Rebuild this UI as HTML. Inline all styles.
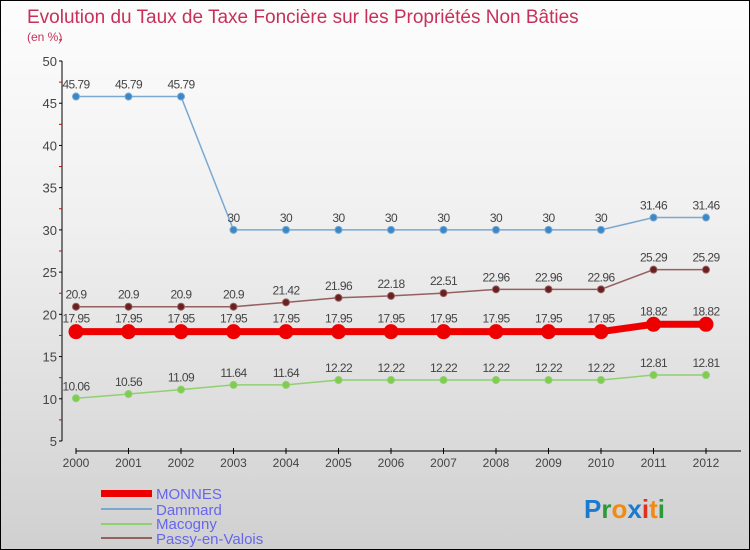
<!DOCTYPE html>
<html><head><meta charset="utf-8"><style>
body{margin:0}
#wrap{width:750px;height:550px;position:relative;box-sizing:border-box;border:1px solid #000;background:linear-gradient(#fdfdfd,#f0f0f0 40%,#d0d0d0);font-family:"Liberation Sans",sans-serif;overflow:hidden}
svg text{font-family:"Liberation Sans",sans-serif}
</style></head><body>
<div id="wrap">
<svg id="c" width="750" height="550">
<text x="26" y="22" font-size="19" fill="#c8305a">Evolution du Taux de Taxe Foncière sur les Propriétés Non Bâties</text>
<text x="26" y="40" font-size="12" fill="#c8305a">(en %)</text>
<g id="axes"></g><g id="series"></g>
<g>
<rect x="100" y="489" width="51" height="7" fill="#e00"/>
<text x="155" y="498" font-size="15" fill="#6666ee">MONNES</text>
<rect x="100" y="507" width="51" height="2" fill="#7aa8d0"/>
<text x="155" y="514" font-size="15" fill="#6666ee">Dammard</text>
<rect x="100" y="522" width="51" height="2" fill="#90d070"/>
<text x="155" y="528" font-size="15" fill="#6666ee">Macogny</text>
<rect x="100" y="536" width="51" height="2" fill="#956060"/>
<text x="155" y="543" font-size="15" fill="#6666ee">Passy-en-Valois</text>
</g>
<text x="583" y="517" font-size="26" font-weight="bold"><tspan fill="#1a7ad0">P</tspan><tspan fill="#2a9a3a">r</tspan><tspan fill="#f08a10">o</tspan><tspan fill="#1a7ad0">x</tspan><tspan fill="#e03020">i</tspan><tspan fill="#f08a10">t</tspan><tspan fill="#2a9a3a">i</tspan></text>
</svg></div>
<script>
const years=[2000,2001,2002,2003,2004,2005,2006,2007,2008,2009,2010,2011,2012];
const monnes=[17.95,17.95,17.95,17.95,17.95,17.95,17.95,17.95,17.95,17.95,17.95,18.82,18.82];
const dammard=[45.79,45.79,45.79,30,30,30,30,30,30,30,30,31.46,31.46];
const macogny=[10.06,10.56,11.09,11.64,11.64,12.22,12.22,12.22,12.22,12.22,12.22,12.81,12.81];
const passy=[20.9,20.9,20.9,20.9,21.42,21.96,22.18,22.51,22.96,22.96,22.96,25.29,25.29];
const yTicks=[5,10,15,20,25,30,35,40,45,50];
const NS="http://www.w3.org/2000/svg";
const X=i=>75+i*52.5, Y=v=>60+(50-v)*380/45;
function mk(t,a,p){const e=document.createElementNS(NS,t);for(const k in a)e.setAttribute(k,a[k]);p.appendChild(e);return e;}
const ax=document.getElementById('axes'), sg=document.getElementById('series');
let yl=mk('line',{x1:61,y1:60,x2:61,y2:440,stroke:'#000'},ax);


yTicks.forEach(v=>{
 mk('line',{x1:58,x2:61,y1:Y(v),y2:Y(v),stroke:'#000'},ax);
 mk('line',{x1:58,x2:61,y1:Y(v+2.5),y2:Y(v+2.5),stroke:'#d00'},ax);
 const t=mk('text',{x:56,y:Y(v)+5,'font-size':13,fill:'#444','text-anchor':'end'},ax);t.textContent=v;
 
 
});
let xl=mk('line',{x1:75,y1:450,x2:740,y2:450,stroke:'#000'},ax);


years.forEach((y,i)=>{
 mk('line',{x1:X(i),x2:X(i),y1:447,y2:453,stroke:'#000'},ax);
 const t=mk('text',{x:X(i),y:466,'font-size':12,fill:'#444','text-anchor':'middle'},ax);t.textContent=y;
 
 
});
function series(data,color,dot,w,r,name){
 const g=mk('g',{},sg);
 
 
 mk('polyline',{points:data.map((v,i)=>X(i)+','+Y(v)).join(' '),fill:'none',stroke:color,'stroke-width':w},g);
 data.forEach((v,i)=>{
  const c=mk('circle',{cx:X(i),cy:Y(v),r:r,fill:dot,stroke:color,'stroke-width':1},g);
  
  
  const t=mk('text',{x:X(i),y:Y(v)-(name==='monnes'?9:8),'font-size':12,fill:'#444','text-anchor':'middle','letter-spacing':'-0.6'},g);
  t.textContent=String(v);
 });
}
series(macogny,'#90d070','#80cc50',1.5,3.5,'macogny');
series(passy,'#956060','#6a2020',1.5,3.5,'passy');
series(dammard,'#7aa8d0','#3a88c8',1.5,3.5,'dammard');
series(monnes,'#e00','#e00',7,7,'monnes');
</script>
</body></html>
